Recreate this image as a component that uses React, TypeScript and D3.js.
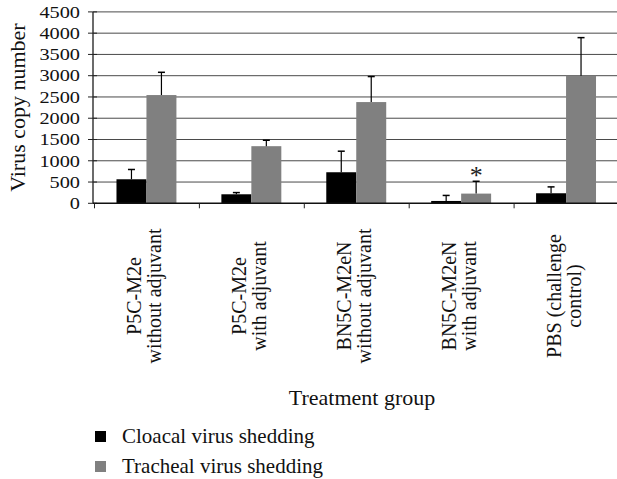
import React, { useEffect, useRef } from 'react';
import * as d3 from 'd3';

// treatment groups (two-line labels)
const groups = [
  ['P5C-M2e', 'without adjuvant'],
  ['P5C-M2e', 'with adjuvant'],
  ['BN5C-M2eN', 'without adjuvant'],
  ['BN5C-M2eN', 'with adjuvant'],
  ['PBS (challenge', 'control)'],
];
const seriesNames = ['Cloacal virus shedding', 'Tracheal virus shedding'];
const seriesColors = ['#000000', '#808080'];
const cloacal = [565, 212, 730, 55, 236];
const cloacalErr = [230, 40, 495, 130, 150];
const tracheal = [2545, 1343, 2380, 228, 3000];
const trachealErr = [535, 140, 600, 290, 895];
const significant = [false, false, false, true, false];
const yTicks = [0, 500, 1000, 1500, 2000, 2500, 3000, 3500, 4000, 4500];

const FONT = '"Liberation Serif", "Times New Roman", Times, "DejaVu Serif", serif';

function App() {
  const ref = useRef<SVGSVGElement>(null);
  const width = 617;
  const height = 479;

  useEffect(() => {
    const svg = d3.select(ref.current);
    svg.selectAll('*').remove();
    svg.attr('font-family', FONT);

    const x = d3.scaleBand<number>()
      .domain(d3.range(groups.length))
      .range([94, 618.5]);
    const xs = d3.scaleBand<number>()
      .domain([0, 1])
      .range([0, x.bandwidth()])
      .paddingOuter(0.75);
    const y = d3.scaleLinear().domain([0, 4500]).range([203.3, 11.9]);

    svg.append('rect').attr('width', width).attr('height', height).attr('fill', '#fff');

    // gridlines
    svg.append('g')
      .selectAll('line')
      .data(yTicks.filter(d => d > 0))
      .enter().append('line')
      .attr('x1', 93).attr('x2', width)
      .attr('y1', d => y(d)).attr('y2', d => y(d))
      .attr('stroke', '#4a4a4a')
      .attr('stroke-width', 1);

    // bars
    const series = [
      { vals: cloacal, errs: cloacalErr },
      { vals: tracheal, errs: trachealErr },
    ];
    series.forEach((s, si) => {
      const g = svg.append('g');
      g.selectAll('rect')
        .data(s.vals)
        .enter().append('rect')
        .attr('x', (d, i) => (x(i) as number) + (xs(si) as number))
        .attr('width', xs.bandwidth())
        .attr('y', d => y(d))
        .attr('height', d => y(0) - y(d))
        .attr('fill', seriesColors[si]);

      // error bars (upper only)
      const eb = g.selectAll('.err')
        .data(s.vals)
        .enter().append('g')
        .attr('class', 'err');
      const cx = (i: number) => (x(i) as number) + (xs(si) as number) + xs.bandwidth() / 2;
      eb.append('line')
        .attr('x1', (d, i) => cx(i)).attr('x2', (d, i) => cx(i))
        .attr('y1', d => y(d)).attr('y2', (d, i) => y(d + s.errs[i]))
        .attr('stroke', '#000').attr('stroke-width', 1.2);
      eb.append('line')
        .attr('x1', (d, i) => cx(i) - 3.5).attr('x2', (d, i) => cx(i) + 3.5)
        .attr('y1', (d, i) => y(d + s.errs[i])).attr('y2', (d, i) => y(d + s.errs[i]))
        .attr('stroke', '#000').attr('stroke-width', 1.5);

      if (si === 1) {
        g.selectAll('.star')
          .data(s.vals.map((d, i) => ({ d, i })).filter(o => significant[o.i]))
          .enter().append('text')
          .attr('x', o => cx(o.i))
          .attr('y', o => y(o.d + s.errs[o.i]) + 3)
          .attr('text-anchor', 'middle')
          .attr('font-size', 26)
          .attr('fill', '#222')
          .text('*');
      }
    });

    // y axis
    svg.append('line')
      .attr('x1', 93).attr('x2', 93)
      .attr('y1', y(4500)).attr('y2', y(0))
      .attr('stroke', '#3a3a3a').attr('stroke-width', 1.5);
    const yt = svg.append('g')
      .selectAll('g')
      .data(yTicks)
      .enter().append('g');
    yt.append('line')
      .attr('x1', 88).attr('x2', 97)
      .attr('y1', d => y(d)).attr('y2', d => y(d))
      .attr('stroke', '#222').attr('stroke-width', 1);
    yt.append('text')
      .attr('transform', d => `translate(80,${y(d)}) scale(1.27,1)`)
      .attr('dy', '0.36em')
      .attr('text-anchor', 'end')
      .attr('font-size', 16)
      .attr('fill', '#111')
      .text(d => d);

    // x axis
    svg.append('line')
      .attr('x1', 93).attr('x2', width)
      .attr('y1', y(0)).attr('y2', y(0))
      .attr('stroke', '#111').attr('stroke-width', 1.5);
    svg.append('g')
      .selectAll('line')
      .data(d3.range(groups.length))
      .enter().append('line')
      .attr('x1', i => (x(i) as number) + 0.5).attr('x2', i => (x(i) as number) + 0.5)
      .attr('y1', y(0)).attr('y2', y(0) + 5)
      .attr('stroke', '#222').attr('stroke-width', 1);

    // category labels, rotated
    const lbl = svg.append('g')
      .selectAll('text')
      .data(groups)
      .enter().append('text')
      .attr('transform', (d, i) => `translate(${(x(i) as number) + x.bandwidth() / 2},296) rotate(-90)`)
      .attr('text-anchor', 'middle')
      .attr('font-size', 20)
      .attr('fill', '#111');
    lbl.append('tspan').attr('x', 0).attr('y', -5).text(d => d[0]);
    lbl.append('tspan').attr('x', 0).attr('y', 15).text(d => d[1]);

    // axis titles
    svg.append('text')
      .attr('transform', `translate(25,${(y(4500) + y(0)) / 2}) rotate(-90)`)
      .attr('text-anchor', 'middle')
      .attr('font-size', 22)
      .attr('fill', '#111')
      .text('Virus copy number');
    svg.append('text')
      .attr('x', 362)
      .attr('y', 405)
      .attr('text-anchor', 'middle')
      .attr('font-size', 22)
      .attr('fill', '#111')
      .text('Treatment group');

    // legend
    const leg = svg.append('g')
      .selectAll('g')
      .data(seriesNames)
      .enter().append('g')
      .attr('transform', (d, i) => `translate(95,${431 + i * 30})`);
    leg.append('rect')
      .attr('width', 11).attr('height', 11)
      .attr('fill', (d, i) => seriesColors[i]);
    leg.append('text')
      .attr('x', 27).attr('y', 12)
      .attr('font-size', 21)
      .attr('fill', '#111')
      .text(d => d);
  }, []);

  return (
    <svg
      ref={ref}
      width={width}
      height={height}
      style={{ position: 'absolute', left: 0, top: 0, display: 'block' }}
    />
  );
}

export default App;
